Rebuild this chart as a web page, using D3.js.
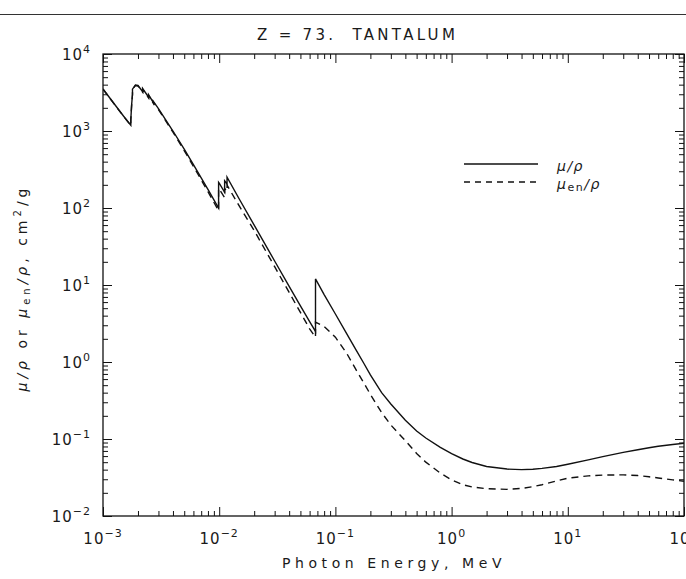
<!DOCTYPE html>
<html><head><meta charset="utf-8">
<script src="https://cdn.jsdelivr.net/npm/d3@7"></script>
<style>
html,body{margin:0;padding:0;background:#fff;}
svg{display:block;}
text{font-family:"DejaVu Sans",sans-serif;fill:#1a1a1a;}
</style></head>
<body>
<svg id="c" width="686" height="579"></svg>
<script>
// Photon energy (MeV)
const energy = [1.0e-3,1.5e-3,1.735e-3,1.735e-3,1.764e-3,1.7936e-3,1.7936e-3,1.9e-3,2.0e-3,2.194e-3,2.194e-3,2.469e-3,2.469e-3,2.708e-3,2.708e-3,3.0e-3,4.0e-3,5.0e-3,6.0e-3,8.0e-3,9.881e-3,9.881e-3,10.0e-3,11.136e-3,11.136e-3,11.682e-3,11.682e-3,15.0e-3,20.0e-3,30.0e-3,40.0e-3,50.0e-3,60.0e-3,67.416e-3,67.416e-3,80.0e-3,0.1,0.125,0.15,0.175,0.2,0.25,0.3,0.4,0.5,0.6,0.8,1.0,1.25,1.5,2.0,3.0,4.0,5.0,6.0,8.0,10,15,20,30,40,50,60,80,100];
// mass attenuation coefficient mu/rho (cm2/g)
const muRho = [3510,1566,1190,1400,2200,3000,3500,3950,3900,3250,3560,2750,2950,2350,2440,1950,1000,580,367,175,100,215,210,160,225,205,252,128,60,20.5,9.6,5.35,3.35,2.5,12.0,7.5,4.2,2.33,1.45,0.97,0.68,0.40,0.285,0.175,0.127,0.103,0.078,0.0645,0.055,0.0495,0.044,0.0407,0.0400,0.0405,0.0415,0.044,0.047,0.0535,0.059,0.067,0.0725,0.077,0.0805,0.085,0.088];
// mass energy-absorption coefficient mu_en/rho (cm2/g)
const muEnRho = [3495,1555,1180,1385,2170,2960,3450,3890,3840,3190,3490,2690,2880,2290,2380,1900,965,555,348,163,92,180,176,136,180,165,198,104,51,17.3,8.0,4.4,2.7,2.1,3.3,2.9,2.1,1.3,0.80,0.54,0.38,0.22,0.152,0.095,0.065,0.050,0.036,0.0295,0.0255,0.0238,0.0226,0.0222,0.0228,0.0240,0.0255,0.0285,0.031,0.0332,0.034,0.0342,0.0335,0.0323,0.0312,0.0295,0.0282];
const xDecades = [-3,-2,-1,0,1,2];
const yDecades = [-2,-1,0,1,2,3,4];
const titleText = "Z = 73.  TANTALUM";
const xTitle = "Photon Energy, MeV";

const svg = d3.select("#c");
const L = 103, R = 684, T = 54, B = 516;
const x = d3.scaleLog().domain([1e-3, 1e2]).range([L, R]);
const y = d3.scaleLog().domain([1e-2, 1e4]).range([B, T]);

// top rule
svg.append("line").attr("x1",0).attr("x2",686).attr("y1",14.5).attr("y2",14.5)
  .attr("stroke","#333").attr("stroke-width",1.2);

// title
svg.append("text").attr("x",257).attr("y",40).attr("font-size",15)
  .attr("letter-spacing","3.3px").style("white-space","pre").text(titleText);

// clip
svg.append("clipPath").attr("id","clip").append("rect").attr("x",L).attr("y",T).attr("width",R-L).attr("height",B-T);

const g = svg.append("g");
g.append("rect").attr("x",L).attr("y",T).attr("width",R-L).attr("height",B-T)
  .attr("fill","none").attr("stroke","#111").attr("stroke-width",1.3);

const isDecade = d => Math.abs(Math.log10(d) - Math.round(Math.log10(d))) < 1e-6;
const xMinor = x.ticks().filter(d => !isDecade(d));
const xMajor = xDecades.map(e => Math.pow(10,e));
const yMinor = y.ticks().filter(d => !isDecade(d));
const yMajor = yDecades.map(e => Math.pow(10,e));

function drawX(pos, dir){
  g.append("g").attr("transform",`translate(0,${pos})`)
    .call(d3.axisBottom(x).tickValues(xMajor).tickSize(-9*dir).tickFormat(""))
    .call(a=>a.select(".domain").remove());
  g.append("g").attr("transform",`translate(0,${pos})`)
    .call(d3.axisBottom(x).tickValues(xMinor).tickSize(-5*dir).tickFormat(""))
    .call(a=>a.select(".domain").remove());
}
drawX(B, 1); drawX(T, -1);
function drawY(pos, dir){
  g.append("g").attr("transform",`translate(${pos},0)`)
    .call(d3.axisLeft(y).tickValues(yMajor).tickSize(-9*dir).tickFormat(""))
    .call(a=>a.select(".domain").remove());
  g.append("g").attr("transform",`translate(${pos},0)`)
    .call(d3.axisLeft(y).tickValues(yMinor).tickSize(-5*dir).tickFormat(""))
    .call(a=>a.select(".domain").remove());
}
drawY(L, 1); drawY(R, -1);
g.selectAll(".tick line").attr("stroke","#111").attr("stroke-width",1);

// tick labels
xDecades.forEach(e => {
  const t = svg.append("text").attr("x", x(Math.pow(10,e))).attr("y",544).attr("text-anchor","middle").attr("font-size",15).attr("letter-spacing","1px");
  t.append("tspan").text("10");
  t.append("tspan").attr("dy",-7).attr("font-size",11).text(e<0 ? "\u2212"+Math.abs(e) : String(e));
});
yDecades.forEach(e => {
  const t = svg.append("text").attr("x", 91).attr("y", y(Math.pow(10,e))+6).attr("text-anchor","end").attr("font-size",15).attr("letter-spacing","1px");
  t.append("tspan").text("10");
  t.append("tspan").attr("dy",-7).attr("font-size",11).text(e<0 ? "\u2212"+Math.abs(e) : String(e));
});

// x title
svg.append("text").attr("x",394).attr("y",568).attr("text-anchor","middle").attr("font-size",14)
  .attr("letter-spacing","4.6px").text(xTitle);

// y title
const yt = svg.append("text").attr("transform","translate(27,288) rotate(-90)").attr("text-anchor","middle")
  .attr("font-size",14).attr("letter-spacing","4px").style("white-space","pre");
yt.append("tspan").attr("font-style","italic").text("\u03bc/\u03c1");
yt.append("tspan").text(" or ");
yt.append("tspan").attr("font-style","italic").text("\u03bc");
yt.append("tspan").attr("font-size",10).attr("dy",3).text("en");
yt.append("tspan").attr("font-style","italic").attr("dy",-3).text("/\u03c1");
yt.append("tspan").text(", cm");
yt.append("tspan").attr("font-size",10).attr("dy",-6).text("2");
yt.append("tspan").attr("dy",6).text("/g");

// data lines
const pts1 = energy.map((e,i)=>[e, muRho[i]]);
const pts2 = energy.map((e,i)=>[e, muEnRho[i]]);
const line = d3.line().x(d=>x(d[0])).y(d=>y(d[1]));
const pg = svg.append("g").attr("clip-path","url(#clip)");
pg.append("path").datum(pts1).attr("d",line).attr("fill","none").attr("stroke","#111").attr("stroke-width",1.4);
pg.append("path").datum(pts2).attr("d",line).attr("fill","none").attr("stroke","#111").attr("stroke-width",1.4)
  .attr("stroke-dasharray","7,5");

// legend
svg.append("line").attr("x1",464).attr("x2",538).attr("y1",164).attr("y2",164).attr("stroke","#111").attr("stroke-width",1.4);
svg.append("line").attr("x1",464).attr("x2",538).attr("y1",182).attr("y2",182).attr("stroke","#111").attr("stroke-width",1.4).attr("stroke-dasharray","6,5");
const l1 = svg.append("text").attr("x",557).attr("y",171).attr("font-size",14).attr("font-style","italic").attr("letter-spacing","1.5px");
l1.text("\u03bc/\u03c1");
const l2 = svg.append("text").attr("x",557).attr("y",189).attr("font-size",14).attr("letter-spacing","1.5px");
l2.append("tspan").attr("font-style","italic").text("\u03bc");
l2.append("tspan").attr("font-size",11).attr("dy",2).text("en");
l2.append("tspan").attr("font-style","italic").attr("dy",-2).text("/\u03c1");
</script>
</body></html>
